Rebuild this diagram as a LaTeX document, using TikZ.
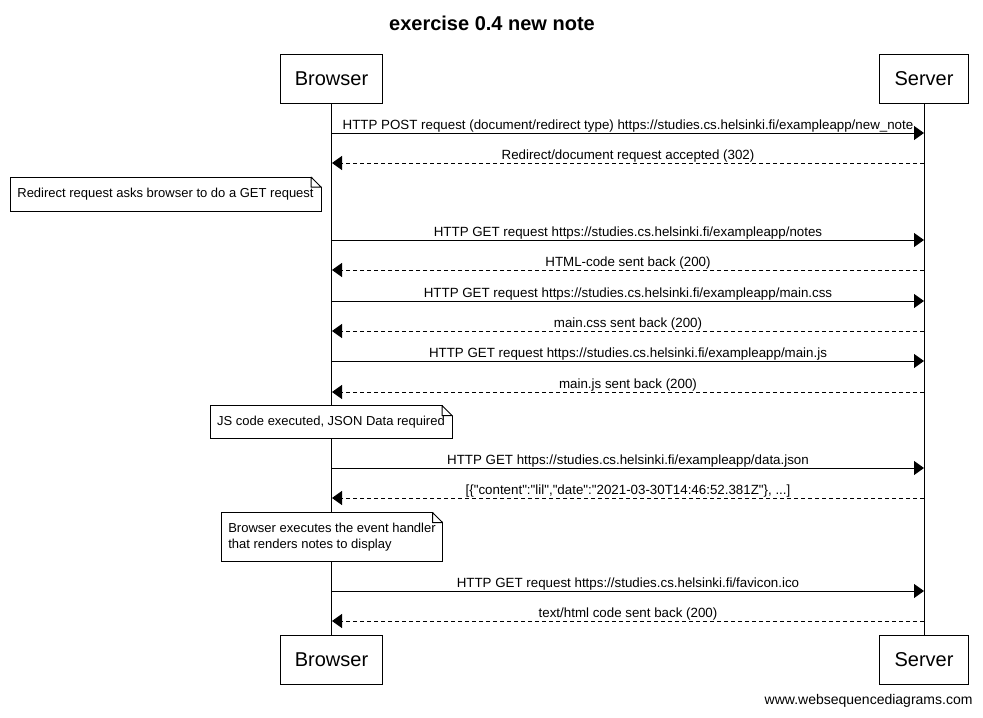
\documentclass[tikz,border=0pt]{standalone}
\usepackage{fontspec}
\setmainfont{Liberation Sans}
\usepackage{tikz}
\usetikzlibrary{arrows.meta,positioning,shapes}

\begin{document}
\begin{tikzpicture}[x=0.75pt,y=-0.75pt,line width=0.75pt,
	actor/.style={draw,fill=white,inner xsep=11pt,minimum height=36.75pt,font=\fontsize{15}{18}\selectfont},
	note/.style={draw,fill=white,outer sep=0pt,font=\fontsize{9.75}{12}\selectfont},
	lbl/.style={midway,anchor=base,yshift=3pt,inner sep=0pt,font=\fontsize{10}{12}\selectfont},
	req/.style={-{Triangle[length=7.5pt,width=10.5pt]}},
	resp/.style={req,dash pattern=on 3pt off 2.25pt}]
	\useasboundingbox (0,0) rectangle (983,718);

	\node[font=\bfseries\fontsize{15}{18}\selectfont] (title) at (492,23) {exercise 0.4 new note};

	\node[actor] (btop) at (331.5,78.5) {Browser};
	\node[actor] (stop) at (924,78.5) {Server};
	\node[actor] (bbot) at (331.5,659.5) {Browser};
	\node[actor] (sbot) at (924,659.5) {Server};
	\draw (btop) -- (bbot);
	\draw (stop) -- (sbot);

	\foreach \n/\y in {1/133,2/163,3/240,4/270,5/301,6/331,7/361,8/392,9/468,10/498,11/591,12/621}{
		\coordinate (b\n) at (332,\y);
		\coordinate (s\n) at (924,\y);
	}

	\draw[req] (b1) -- node[lbl] {HTTP POST request (document/redirect type) https://studies.cs.helsinki.fi/exampleapp/new\_note} (s1);
	\draw[resp] (s2) -- node[lbl] {Redirect/document request accepted (302)} (b2);
	\node[note,minimum width=233.25pt,minimum height=25.5pt] (n1) at (165.5,194) {Redirect request asks browser to do a GET request};
	\draw[req] (b3) -- node[lbl] {HTTP GET request https://studies.cs.helsinki.fi/exampleapp/notes} (s3);
	\draw[resp] (s4) -- node[lbl] {HTML-code sent back (200)} (b4);
	\draw[req] (b5) -- node[lbl] {HTTP GET request https://studies.cs.helsinki.fi/exampleapp/main.css} (s5);
	\draw[resp] (s6) -- node[lbl] {main.css sent back (200)} (b6);
	\draw[req] (b7) -- node[lbl] {HTTP GET request https://studies.cs.helsinki.fi/exampleapp/main.js} (s7);
	\draw[resp] (s8) -- node[lbl] {main.js sent back (200)} (b8);
	\node[note,minimum width=181.5pt,minimum height=24.75pt] (n2) at (331,422) {JS code executed, JSON Data required};
	\draw[req] (b9) -- node[lbl] {HTTP GET https://studies.cs.helsinki.fi/exampleapp/data.json} (s9);
	\draw[resp] (s10) -- node[lbl] {[\{\textquotedbl content\textquotedbl:\textquotedbl lil\textquotedbl,\textquotedbl date\textquotedbl:\textquotedbl 2021-03-30T14:46:52.381Z\textquotedbl\}, ...]} (b10);
	\node[note,minimum width=165.75pt,minimum height=36.75pt,align=left] (n3) at (332,537) {Browser executes the event handler\\that renders notes to display};
	\draw[req] (b11) -- node[lbl] {HTTP GET request https://studies.cs.helsinki.fi/favicon.ico} (s11);
	\draw[resp] (s12) -- node[lbl] {text/html code sent back (200)} (b12);

	\foreach \n in {n1,n2,n3}{
		\fill[white] (\n.north east) ++(-10,-1) -- ++(11,0) -- ++(0,11) -- cycle;
		\draw[line join=bevel] (\n.north east) ++(-10,0) -- ++(10,10) -- ++(-10,0) -- cycle;
	}

	\node[anchor=east,inner sep=0pt,font=\fontsize{10.5}{12}\selectfont] (wsd) at (973,701) {www.websequencediagrams.com};
\end{tikzpicture}
\end{document}
